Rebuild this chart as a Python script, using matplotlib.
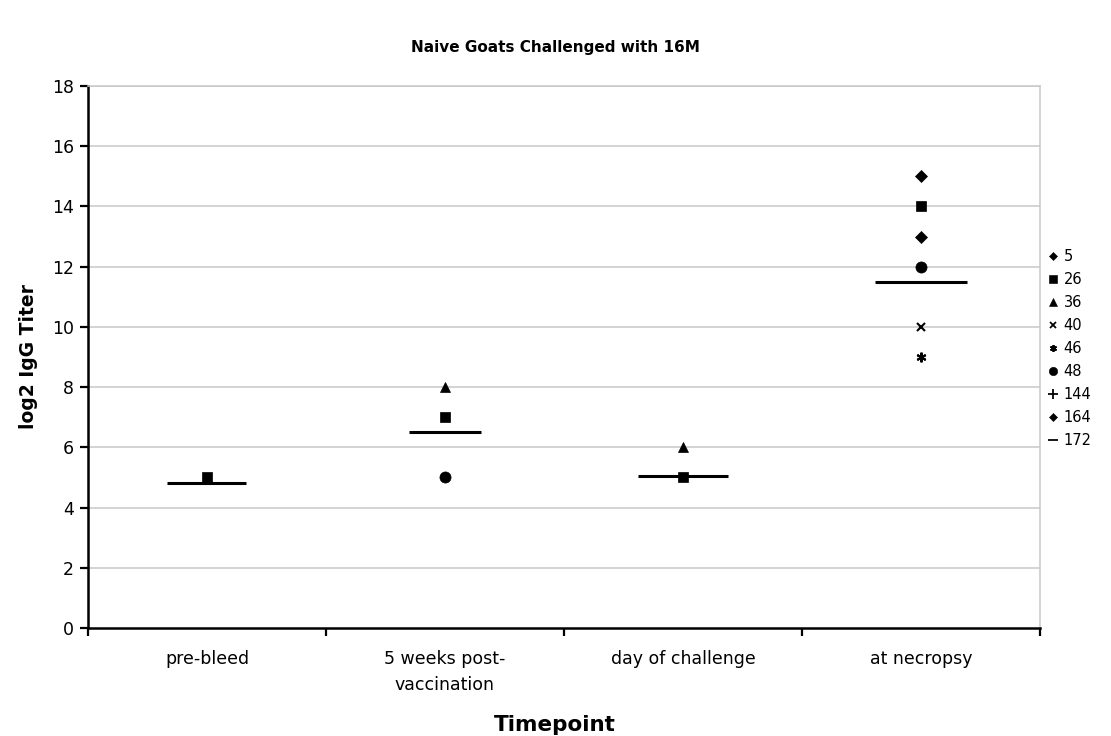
import numpy as np
import matplotlib
matplotlib.use("Agg")
import matplotlib.pyplot as plt
from matplotlib.lines import Line2D

nan = np.nan

# Sampling timepoints (x categories)
timepoints = ["pre-bleed", "5 weeks post-\nvaccination", "day of challenge", "at necropsy"]

# Animal IDs and their log2 IgG titers at each timepoint
goat_ids = ["5", "26", "36", "40", "46", "48", "144", "164", "172"]
titer_5 = [nan, nan, nan, 15]
titer_26 = [5, 7, 5, 14]
titer_36 = [nan, 8, 6, nan]
titer_40 = [nan, nan, nan, 10]
titer_46 = [nan, nan, nan, 9]
titer_48 = [nan, 5, nan, 12]
titer_144 = [nan, nan, nan, nan]
titer_164 = [nan, nan, nan, 13]
titer_172 = [nan, nan, nan, nan]

# Group mean at each timepoint
group_mean = [4.8, 6.5, 5.05, 11.5]

y_ticks = [0, 2, 4, 6, 8, 10, 12, 14, 16, 18]

series = [titer_5, titer_26, titer_36, titer_40, titer_46,
          titer_48, titer_144, titer_164, titer_172]
markers = ["D", "s", "^", "x", (6, 2, 0), "o", "+", "D", "_"]
msizes = [6, 7, 7, 6, 7, 8, 8, 6, 8]
legend_ms = [4.5, 5.5, 5.5, 5, 5, 6, 7, 4.5, 7]


def edge_width(mk):
    return 1.5 if mk in ("x", "+", "_") or isinstance(mk, tuple) else 0.5


plt.rcParams["font.family"] = ["DejaVu Sans"]

fig = plt.figure(figsize=(11.11, 7.36), dpi=100)
ax = fig.add_axes([0.0792, 0.1467, 0.8568, 0.7365])

x = np.arange(len(timepoints))

# Horizontal gridlines
for yt in y_ticks[1:]:
    ax.axhline(yt, color="#c8c8c8", lw=1.1, zorder=0)

# Group mean bars
half_w = [0.166, 0.15, 0.19, 0.195]
for xi, m, hw in zip(x, group_mean, half_w):
    ax.plot([xi - hw, xi + hw], [m, m], color="black", lw=2.2,
            solid_capstyle="butt", zorder=2)

# Individual animals
for vals, mk, ms in zip(series, markers, msizes):
    ax.plot(x, vals, linestyle="none", marker=mk, markersize=ms,
            color="black", markeredgewidth=edge_width(mk), zorder=3)

ax.set_xlim(-0.5, len(timepoints) - 0.5)
ax.set_ylim(0, 18)
ax.set_yticks(y_ticks)
ax.set_yticklabels([str(v) for v in y_ticks], fontsize=12.5)

# Category tick marks at the boundaries, labels centred
ax.set_xticks(np.arange(-0.5, len(timepoints), 1.0))
ax.set_xticklabels([])
ax.set_xticks(x, minor=True)
ax.set_xticklabels(timepoints, minor=True, fontsize=12.5, linespacing=1.55)
ax.tick_params(axis="x", which="minor", length=0, pad=16)
ax.tick_params(axis="x", which="major", length=6, width=1.6, direction="out")
ax.tick_params(axis="y", length=6, width=1.6, direction="out", pad=4)

for side in ("left", "bottom"):
    ax.spines[side].set_linewidth(1.8)
    ax.spines[side].set_color("black")
for side in ("top", "right"):
    ax.spines[side].set_linewidth(1.1)
    ax.spines[side].set_color("#c8c8c8")

ax.set_ylabel("log2 IgG Titer", fontsize=13.5, fontweight="bold", labelpad=10)
ax.set_xlabel("Timepoint", fontsize=15.5, fontweight="bold", labelpad=13)
ax.xaxis.set_label_coords(0.49, -0.16)

fig.text(0.5, 0.935, "Naive Goats Challenged with 16M", ha="center", va="center",
         fontsize=11, fontweight="bold")

# Legend
handles = [Line2D([], [], linestyle="none", marker=mk, markersize=ms, color="black",
                  markeredgewidth=edge_width(mk) * 0.85)
           for mk, ms in zip(markers, legend_ms)]
fig.legend(handles, goat_ids, loc="center left", bbox_to_anchor=(0.937, 0.526),
           frameon=False, fontsize=10.5, handlelength=0.8, handletextpad=0.35,
           labelspacing=0.55, borderaxespad=0)

fig.savefig("out.png", dpi=100)
